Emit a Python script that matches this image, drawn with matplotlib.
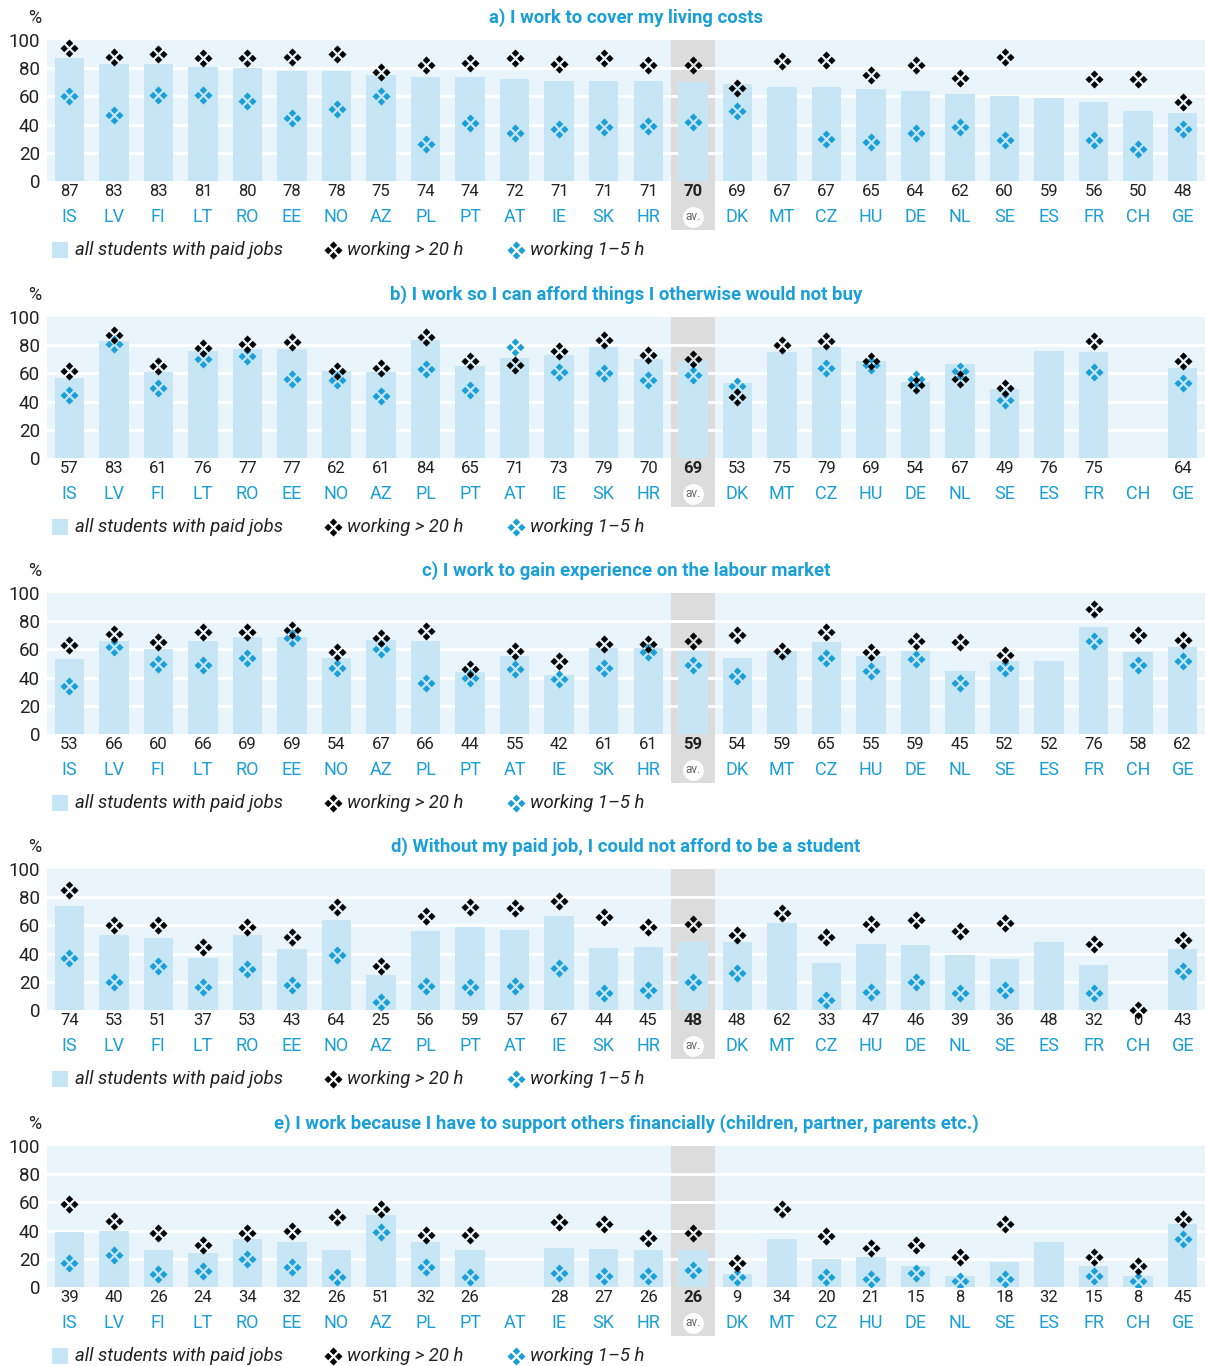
import numpy as np
import matplotlib.pyplot as plt
import matplotlib.transforms as mtransforms
from matplotlib.path import Path
from matplotlib.patches import Rectangle
from matplotlib.lines import Line2D

plt.rcParams['font.family'] = ['Roboto', 'DejaVu Sans']

countries = ['IS', 'LV', 'FI', 'LT', 'RO', 'EE', 'NO', 'AZ', 'PL', 'PT', 'AT', 'IE', 'SK', 'HR',
             'av.', 'DK', 'MT', 'CZ', 'HU', 'DE', 'NL', 'SE', 'ES', 'FR', 'CH', 'GE']
N = None

titles = [
    'a) I work to cover my living costs',
    'b) I work so I can afford things I otherwise would not buy',
    'c) I work to gain experience on the labour market',
    'd) Without my paid job, I could not afford to be a student',
    'e) I work because I have to support others financially (children, partner, parents etc.)',
]

# all students with paid jobs
all_a = [87, 83, 83, 81, 80, 78, 78, 75, 74, 74, 72, 71, 71, 71, 70, 69, 67, 67, 65, 64, 62, 60, 59, 56, 50, 48]
all_b = [57, 83, 61, 76, 77, 77, 62, 61, 84, 65, 71, 73, 79, 70, 69, 53, 75, 79, 69, 54, 67, 49, 76, 75, N, 64]
all_c = [53, 66, 60, 66, 69, 69, 54, 67, 66, 44, 55, 42, 61, 61, 59, 54, 59, 65, 55, 59, 45, 52, 52, 76, 58, 62]
all_d = [74, 53, 51, 37, 53, 43, 64, 25, 56, 59, 57, 67, 44, 45, 48, 48, 62, 33, 47, 46, 39, 36, 48, 32, 0, 43]
all_e = [39, 40, 26, 24, 34, 32, 26, 51, 32, 26, N, 28, 27, 26, 26, 9, 34, 20, 21, 15, 8, 18, 32, 15, 8, 45]

# working > 20 h
hi_a = [94, 88, 90, 87, 87, 88, 90, 77, 82, 84, 87, 83, 87, 82, 82, 66, 85, 86, 75, 82, 73, 88, N, 72, 72, 56]
hi_b = [62, 87, 65, 78, 81, 82, 62, 64, 86, 69, 66, 76, 84, 73, 70, 43, 80, 83, 69, 52, 56, 50, N, 83, N, 69]
hi_c = [63, 71, 65, 72, 72, 74, 58, 68, 73, 46, 59, 52, 64, 64, 66, 70, 59, 72, 58, 66, 65, 56, N, 89, 70, 67]
hi_d = [85, 60, 60, 45, 59, 52, 73, 31, 67, 73, 72, 77, 66, 59, 61, 53, 69, 52, 61, 64, 56, 62, N, 47, 0, 50]
hi_e = [59, 47, 38, 30, 38, 40, 50, 55, 37, 37, N, 46, 45, 35, 38, 17, 55, 36, 28, 30, 21, 45, N, 21, 15, 48]

# working 1-5 h
lo_a = [60, 47, 61, 61, 57, 45, 51, 60, 26, 41, 34, 37, 38, 39, 42, 50, N, 30, 28, 34, 38, 29, N, 29, 23, 37]
lo_b = [45, 81, 50, 70, 72, 56, 55, 44, 63, 48, 79, 61, 60, 55, 59, 51, N, 64, 66, 56, 62, 41, N, 61, N, 53]
lo_c = [34, 62, 50, 49, 54, 68, 47, 60, 36, 40, 46, 39, 47, 58, 49, 41, N, 54, 45, 53, 36, 47, N, 66, 49, 52]
lo_d = [37, 20, 31, 16, 29, 18, 39, 6, 17, 16, 17, 30, 12, 14, 20, 26, N, 7, 13, 20, 12, 14, N, 12, N, 28]
lo_e = [17, 23, 9, 11, 20, 14, 7, 39, 14, 7, N, 10, 8, 8, 12, 7, N, 7, 6, 10, 4, 6, N, 8, 4, 34]

panels = [
    (titles[0], all_a, hi_a, lo_a),
    (titles[1], all_b, hi_b, lo_b),
    (titles[2], all_c, hi_c, lo_c),
    (titles[3], all_d, hi_d, lo_d),
    (titles[4], all_e, hi_e, lo_e),
]

BLUE = '#1b9fd8'
BAR = '#c6e6f5'
BG = '#e9f5fb'
GREY = '#dcdcdc'
DARK = '#222222'


def quad_marker():
    # four small diamonds, like the ❖ glyph
    verts, codes = [], []
    r = 0.7
    for cx, cy in [(0, 1), (1, 0), (0, -1), (-1, 0)]:
        verts += [(cx, cy + r), (cx + r, cy), (cx, cy - r), (cx - r, cy), (cx, cy + r)]
        codes += [Path.MOVETO, Path.LINETO, Path.LINETO, Path.LINETO, Path.CLOSEPOLY]
    return Path(verts, codes)


QUAD = quad_marker()
MS = 13


def arr(v):
    return np.array([np.nan if x is None else x for x in v], dtype=float)


W, H = 1206, 1366
fig = plt.figure(figsize=(W / 100, H / 100), dpi=100)
tops = [40, 317, 593, 869, 1146]
ax_l, ax_w, ax_h = 47, 1158, 141
av = countries.index('av.')
x = np.arange(len(countries))

for (title, allv, hiv, lov), top in zip(panels, tops):
    ax = fig.add_axes([ax_l / W, 1 - (top + ax_h) / H, ax_w / W, ax_h / H])
    ax.set_facecolor(BG)
    for s in ax.spines.values():
        s.set_visible(False)
    ax.set_xlim(-0.5, len(countries) - 0.5)
    ax.set_ylim(0, 100)
    ax.set_xticks([])
    ax.set_yticks([0, 20, 40, 60, 80, 100])
    ax.tick_params(axis='y', length=0, pad=5, labelsize=13.5, labelcolor=DARK)

    trans = mtransforms.blended_transform_factory(ax.transData, ax.transAxes)
    ax.add_patch(Rectangle((av - 0.5, -0.35), 1, 1.35, transform=trans,
                           color=GREY, clip_on=False, zorder=0.5, lw=0))
    for yv in [20, 40, 60, 80]:
        ax.axhline(yv, color='white', lw=2.2, zorder=1)

    a = arr(allv)
    ax.bar(x, a, width=0.66, color=BAR, zorder=2)
    ax.plot(x, arr(lov), ls='none', marker=QUAD, ms=MS, mew=0, color=BLUE, zorder=3)
    ax.plot(x, arr(hiv), ls='none', marker=QUAD, ms=MS, mew=0, color='black', zorder=4,
            clip_on=False)

    for i, (c, v) in enumerate(zip(countries, allv)):
        if v is not None:
            ax.text(i, -0.078, str(v), transform=trans, ha='center', va='center',
                    fontsize=12, color=DARK, fontweight='bold' if i == av else 'normal')
        if i == av:
            ax.plot([i], [-0.255], transform=trans, marker='o', ms=15, mew=0, color='white',
                    clip_on=False, zorder=5)
            ax.text(i, -0.255, 'av.', transform=trans, ha='center', va='center',
                    fontsize=8.5, color='#666666', zorder=6)
        else:
            ax.text(i, -0.255, c, transform=trans, ha='center', va='center',
                    fontsize=13, color=BLUE)

    fig.text((ax_l + ax_w / 2) / W, 1 - (top - 22) / H, title, ha='center', va='center',
             fontsize=13.3, fontweight='bold', color=BLUE)
    fig.text(35 / W, 1 - (top - 22) / H, '%', ha='center', va='center',
             fontsize=13, color=DARK)

    ly = 1 - (top + ax_h + 69) / H
    fig.add_artist(Rectangle((52 / W, ly - 8 / H), 16 / W, 16 / H, transform=fig.transFigure,
                             color=BAR, lw=0))
    fig.text(75 / W, ly, 'all students with paid jobs', ha='left', va='center',
             fontsize=13.3, style='italic', color=DARK)
    fig.add_artist(Line2D([333 / W], [ly], transform=fig.transFigure, ls='none',
                          marker=QUAD, ms=MS, mew=0, color='black'))
    fig.text(347 / W, ly, 'working > 20 h', ha='left', va='center',
             fontsize=13.3, style='italic', color=DARK)
    fig.add_artist(Line2D([516 / W], [ly], transform=fig.transFigure, ls='none',
                          marker=QUAD, ms=MS, mew=0, color=BLUE))
    fig.text(530 / W, ly, 'working 1–5 h', ha='left', va='center',
             fontsize=13.3, style='italic', color=DARK)

fig.savefig('out.png', dpi=100)
